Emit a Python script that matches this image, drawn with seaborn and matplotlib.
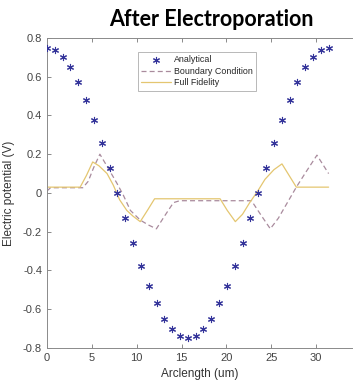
import matplotlib
matplotlib.use("Agg")
import matplotlib.pyplot as plt
import seaborn as sns

# analytical solution samples
ana_x = [0.00, 0.87, 1.75, 2.62, 3.49, 4.36, 5.24, 6.11, 6.98, 7.85, 8.73, 9.60,
         10.47, 11.34, 12.22, 13.09, 13.96, 14.84, 15.71, 16.58, 17.45, 18.33,
         19.20, 20.07, 20.94, 21.82, 22.69, 23.56, 24.43, 25.31, 26.18, 27.05,
         27.93, 28.80, 29.67, 30.54, 31.42]
ana_y = [0.75, 0.74, 0.70, 0.65, 0.57, 0.48, 0.375, 0.26, 0.13, 0.0, -0.13, -0.26,
         -0.375, -0.48, -0.57, -0.65, -0.70, -0.74, -0.75, -0.74, -0.70, -0.65,
         -0.57, -0.48, -0.375, -0.26, -0.13, 0.0, 0.13, 0.26, 0.375, 0.48,
         0.57, 0.65, 0.70, 0.74, 0.75]

# boundary condition model
bc_x = [0.0, 0.4, 4.0, 4.6, 5.2, 5.9, 6.8, 7.8, 8.5, 9.3, 10.4, 11.3, 12.2, 13.1,
        14.1, 14.8, 22.8, 23.8, 24.9, 25.8, 26.8, 27.8, 28.9, 30.1, 31.4]
bc_y = [0.01, 0.027, 0.027, 0.06, 0.13, 0.20, 0.13, 0.05, -0.01, -0.09, -0.14,
        -0.165, -0.185, -0.12, -0.05, -0.04, -0.04, -0.11, -0.185, -0.13, -0.05,
        0.03, 0.11, 0.195, 0.10]

# full fidelity model
ff_x = [0.0, 3.7, 4.4, 5.1, 5.8, 6.7, 7.4, 8.1, 8.9, 9.6, 10.4, 11.2, 12.0, 19.3,
        20.1, 21.0, 21.8, 22.6, 23.5, 24.3, 25.3, 26.2, 27.0, 27.8, 31.4]
ff_y = [0.03, 0.03, 0.09, 0.16, 0.14, 0.10, 0.04, -0.035, -0.09, -0.12, -0.148,
        -0.09, -0.03, -0.03, -0.09, -0.148, -0.11, -0.05, 0.01, 0.07, 0.12, 0.15,
        0.09, 0.03, 0.03]

sns.set_style("white")
plt.rcParams["font.family"] = ["Liberation Sans", "DejaVu Sans"]

fig = plt.figure(figsize=(3.53, 3.91), dpi=100)
ax = fig.add_axes([0.133, 0.110, 0.864, 0.793])

sns.scatterplot(x=ana_x, y=ana_y, ax=ax, marker=(6, 2, 0), s=20,
                color="#34349a", linewidth=0.8, label="Analytical", zorder=3)
sns.lineplot(x=bc_x, y=bc_y, ax=ax, color="#a98b9d", linewidth=0.9,
             linestyle=(0, (4, 2.5)), label="Boundary Condition", sort=False)
sns.lineplot(x=ff_x, y=ff_y, ax=ax, color="#e4c670", linewidth=0.9,
             label="Full Fidelity", sort=False)

ax.set_xlim(0, 34)
ax.set_ylim(-0.8, 0.8)
ax.set_xticks([0, 5, 10, 15, 20, 25, 30])
ax.set_yticks([-0.8, -0.6, -0.4, -0.2, 0, 0.2, 0.4, 0.6, 0.8])
ax.set_yticklabels(["-0.8", "-0.6", "-0.4", "-0.2", "0", "0.2", "0.4", "0.6", "0.8"])
ax.tick_params(direction="in", length=3, width=0.6, colors="#777777",
               labelcolor="#444444", labelsize=8, top=True, bottom=True, left=True)
for side in ["left", "bottom", "top"]:
    ax.spines[side].set_color("#8a8a8a")
    ax.spines[side].set_linewidth(0.7)
ax.spines["right"].set_visible(False)

ax.set_xlabel("Arclength (um)", fontsize=8.5, color="#333333", labelpad=4)
ax.set_ylabel("Electric potential (V)", fontsize=8.5, color="#333333", labelpad=6)

leg = ax.legend(loc="upper left", bbox_to_anchor=(0.391, 0.867),
                bbox_transform=fig.transFigure, fontsize=6.4, frameon=True,
                fancybox=False, handlelength=3.4, handletextpad=0.3,
                borderpad=0.35, labelspacing=0.3, borderaxespad=0)
leg.get_frame().set_edgecolor("#999999")
leg.get_frame().set_linewidth(0.6)

fig.text(0.60, 0.950, "After Electroporation", fontsize=15.5, fontweight="bold",
         family="Lato", ha="center", va="center", color="black")

fig.savefig("out.png", dpi=100)
